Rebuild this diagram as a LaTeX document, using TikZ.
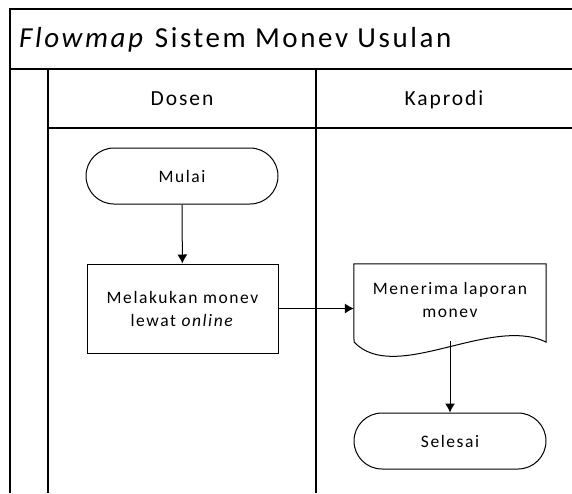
\documentclass[tikz,border=0pt]{standalone}
\usepackage{fontspec}
\setmainfont{Carlito}[LetterSpace=9]
\usetikzlibrary{arrows.meta}
\tikzset{
  frame/.style={line width=1.6pt, black},
  shapeline/.style={draw, line width=1pt},
  nodefont/.style={font=\fontsize{17.5}{23}\selectfont},
  terminator/.style={shapeline, nodefont, rectangle, rounded corners=28pt, minimum width=192pt, minimum height=56pt, inner sep=0pt, align=center},
  process/.style={shapeline, nodefont, rectangle, minimum width=191pt, minimum height=89pt, inner sep=0pt, align=center},
  docbox/.style={nodefont, rectangle, minimum width=192pt, minimum height=72pt, inner sep=0pt, align=center},
  flow/.style={line width=1pt, -{Latex[length=9pt,width=10pt]}},
  title/.style={font=\fontsize{29}{34}\selectfont, inner sep=0pt, anchor=base west},
  lanehead/.style={font=\fontsize{21.5}{26}\selectfont, inner sep=0pt, anchor=base}
}
\begin{document}
\begin{tikzpicture}[x=1pt,y=-1pt]
\useasboundingbox (0,0) rectangle (572,493);
% frame
\draw[frame] (10,493) -- (10,9) -- (572,9);
\draw[frame] (10,69) -- (572,69);
\draw[frame] (48,128) -- (572,128);
\draw[frame] (48,69) -- (48,493);
\draw[frame] (316,69) -- (316,493);
% texts
\node[title] (t) at (19,47) {\textit{Flowmap} Sistem Monev Usulan};
\node[lanehead] (h1) at (182,105) {Dosen};
\node[lanehead] (h2) at (444,105) {Kaprodi};
% nodes
\node[terminator] (mulai) at (182,176) {Mulai};
\node[process] (proses) at (182.5,308.5) {Melakukan monev\\lewat \textit{online}};
\node[docbox] (doc) at (450,300) {Menerima laporan\\monev};
\draw[shapeline] (doc.north west) -- (doc.north east) -- (546,342)
  .. controls (490,315) and (395,385) .. (354,342) -- cycle;
\coordinate (docbot) at (450,341);
\node[terminator] (selesai) at (450,441) {Selesai};
% connectors
\draw[flow] (mulai) -- (proses);
\draw[flow] (proses.east) -- (proses.east -| doc.west);
\draw[flow] (docbot) -- (selesai);
\end{tikzpicture}
\end{document}
